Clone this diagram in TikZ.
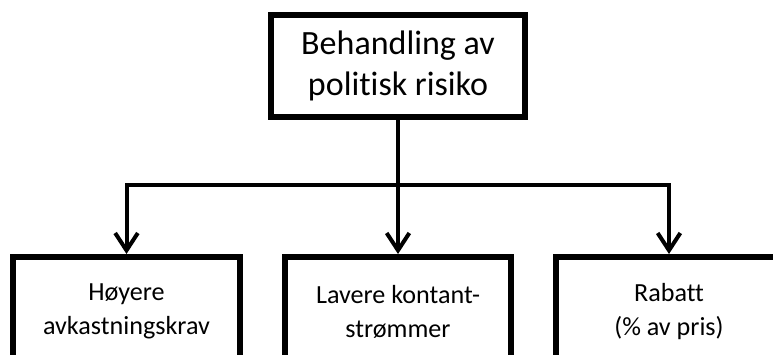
\documentclass[tikz,border=0pt]{standalone}
\usepackage{fontspec}
\setmainfont[Ligatures=NoCommon]{Carlito}
\usetikzlibrary{arrows.meta,positioning}

\begin{document}
\begin{tikzpicture}[
            x=0.75pt,y=-0.75pt,
            box/.style={draw,rectangle,line width=4.5pt,align=center,inner sep=0pt},
            root/.style={box,minimum width=190.5pt,minimum height=77pt,font=\fontsize{25.5}{30.75}\selectfont},
            leaf/.style={box,anchor=north,minimum width=170pt,minimum height=82pt,font=\fontsize{19.6}{25.5}\selectfont},
            link/.style={draw,line width=3pt,-{Straight Barb[length=13pt,width=17pt,line width=3pt]}}
          ]
          \useasboundingbox (0,0) rectangle (773,354);

          \node[root] (risk) at (398,66) {Behandling av\\politisk risiko};

          %tiltak
          \node[leaf] (yield) at (126.5,254) {Høyere\\avkastningskrav};
          \node[leaf] (cash) at (398,254) {Lavere kontant-\\strømmer};
          \node[leaf] (discount) at (669,254) {Rabatt\\(\% av pris)};

          \coordinate (split) at (398,185);
          \draw[line width=3pt] (risk) -- (split);
          \draw[link] (split) -| (yield);
          \draw[link] (split) -- (cash);
          \draw[link] (split) -| (discount);
      \end{tikzpicture}
\end{document}
